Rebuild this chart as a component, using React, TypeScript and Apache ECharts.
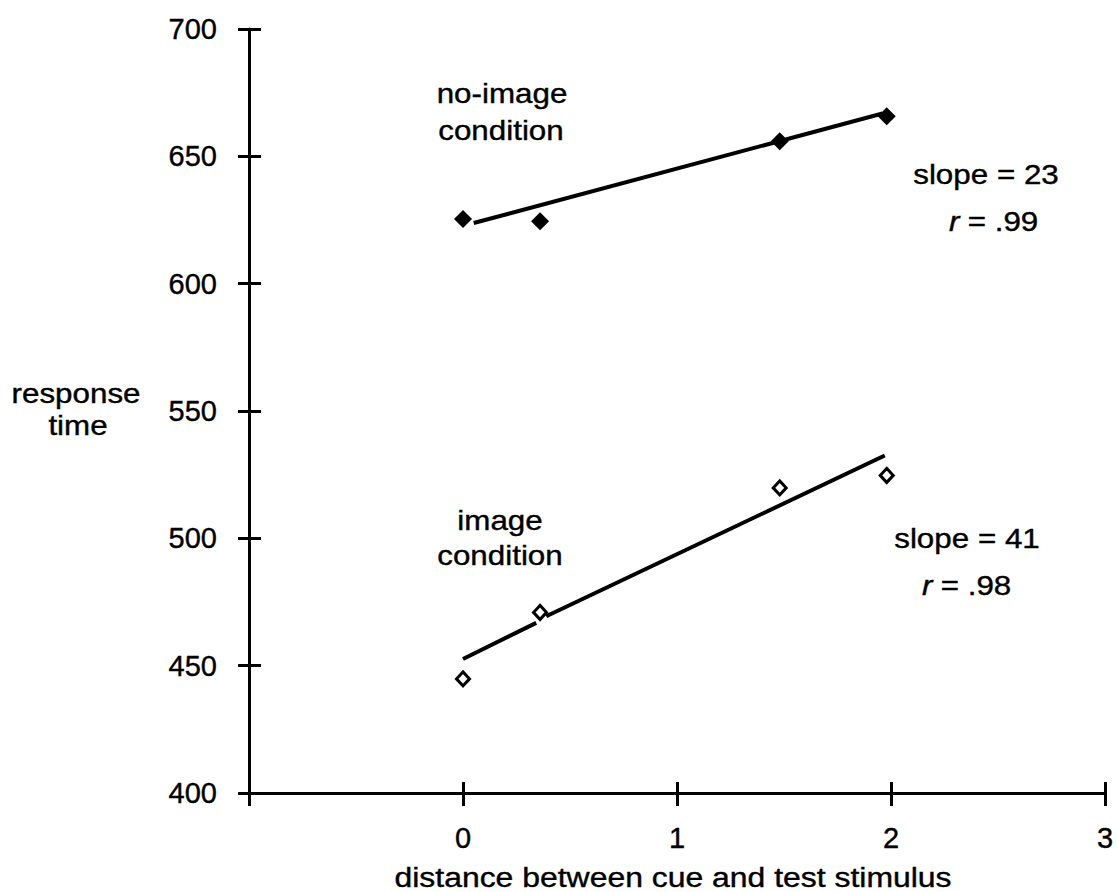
import React, { useEffect, useRef } from 'react';
import * as echarts from 'echarts';

// ---- data ----
const distances = [0, 0.36, 1.48, 1.98];
const noImageRT = [625.4, 624.5, 655.9, 665.7];
const imageRT = [444.8, 470.9, 519.8, 524.7];

// fitted regression lines (as drawn in the figure)
const noImageFitX = [0.05, 1.96];
const noImageFitY = [623.8, 666.8];
const imageFitAX = [0, 0.342];
const imageFitAY = [452.6, 466.8];
const imageFitBX = [0.389, 1.971];
const imageFitBY = [469.4, 532.5];

// axes
const xMin = -1;
const xMax = 3;
const xStep = 1;
const yMin = 400;
const yMax = 700;
const yStep = 50;
const xHiddenLabels = [-1];

const xTitle = 'distance between cue and test stimulus';
const yTitleLines = ['response', 'time'];

const FONT = '"Liberation Sans", Arial, Helvetica, sans-serif';
const FS = 28;
const TICK_FS = 29;
const SX = 1.12;
const TW = 0.4;

const pairs = (xs: number[], ys: number[]) => xs.map((x, i) => [x, ys[i]]);

export default function App() {
  const ref = useRef<HTMLDivElement>(null);

  useEffect(() => {
    if (!ref.current) return;
    const chart = echarts.init(ref.current, undefined, { renderer: 'svg' });
    const black = '#000';
    const axisLineStyle = { color: black, width: 3 };
    const gridRect = { left: 249, right: 13, top: 29, bottom: 99, containLabel: false };

    const textEl = (
      text: string,
      x: number,
      y: number,
      opts: { sx?: number; align?: string; italic?: boolean } = {}
    ) => ({
      type: 'text',
      x,
      y,
      scaleX: opts.sx ?? SX,
      silent: true,
      style: {
        text,
        fill: black,
        stroke: black,
        lineWidth: TW,
        fontSize: FS,
        fontFamily: FONT,
        fontStyle: opts.italic ? 'italic' : 'normal',
        align: opts.align ?? 'center',
        verticalAlign: 'middle',
      },
    });

    const tickLabel = {
      color: black,
      fontSize: TICK_FS,
      fontFamily: FONT,
      textBorderColor: black,
      textBorderWidth: TW,
    };

    const option: any = {
      animation: false,
      backgroundColor: '#fff',
      grid: [gridRect, { ...gridRect }],
      xAxis: [
        {
          gridIndex: 0,
          type: 'value',
          min: xMin,
          max: xMax,
          interval: xStep,
          axisLine: { show: true, onZero: false, lineStyle: axisLineStyle },
          axisTick: { show: true, inside: false, length: 13, lineStyle: axisLineStyle },
          axisLabel: {
            ...tickLabel,
            margin: 30,
            formatter: (v: number) => (xHiddenLabels.includes(v) ? '' : String(v)),
          },
          splitLine: { show: false },
        },
        {
          gridIndex: 1,
          type: 'value',
          min: xMin,
          max: xMax,
          interval: xStep,
          axisLine: { show: false, onZero: false },
          axisTick: { show: true, inside: true, length: 11, lineStyle: axisLineStyle },
          axisLabel: { show: false },
          splitLine: { show: false },
        },
      ],
      yAxis: [
        {
          gridIndex: 0,
          type: 'value',
          min: yMin,
          max: yMax,
          interval: yStep,
          axisLine: { show: true, onZero: false, lineStyle: axisLineStyle },
          axisTick: { show: true, inside: false, length: 11, lineStyle: axisLineStyle },
          axisLabel: { ...tickLabel, margin: 32, padding: [0, 0, 8, 0] },
          splitLine: { show: false },
        },
        {
          gridIndex: 1,
          type: 'value',
          min: yMin,
          max: yMax,
          interval: yStep,
          axisLine: { show: false, onZero: false },
          axisTick: { show: true, inside: true, length: 12, lineStyle: axisLineStyle },
          axisLabel: { show: false },
          splitLine: { show: false },
        },
      ],
      series: [
        {
          name: 'no-image fit',
          type: 'line',
          data: pairs(noImageFitX, noImageFitY),
          showSymbol: false,
          symbol: 'none',
          lineStyle: { color: black, width: 4 },
          z: 2,
        },
        {
          name: 'image fit a',
          type: 'line',
          data: pairs(imageFitAX, imageFitAY),
          showSymbol: false,
          symbol: 'none',
          lineStyle: { color: black, width: 4 },
          z: 2,
        },
        {
          name: 'image fit b',
          type: 'line',
          data: pairs(imageFitBX, imageFitBY),
          showSymbol: false,
          symbol: 'none',
          lineStyle: { color: black, width: 4 },
          z: 2,
        },
        {
          name: 'no-image condition',
          type: 'scatter',
          data: pairs(distances, noImageRT),
          symbol: 'diamond',
          symbolSize: [18, 18],
          itemStyle: { color: black, opacity: 1 },
          z: 3,
        },
        {
          name: 'image condition',
          type: 'scatter',
          data: pairs(distances, imageRT),
          symbol: 'diamond',
          symbolSize: [13, 14],
          itemStyle: { color: '#fff', borderColor: black, borderWidth: 3, opacity: 1 },
          z: 3,
        },
      ],
      graphic: [
        textEl(xTitle, 673, 877, { sx: 1.14 }),
        textEl(yTitleLines[0], 76, 393),
        textEl(yTitleLines[1], 78, 425),
        textEl('no-image', 502, 93),
        textEl('condition', 501, 130),
        textEl('image', 500, 520),
        textEl('condition', 500, 555),
        textEl('slope = 23', 986, 174),
        textEl('r', 949, 221, { align: 'left', italic: true }),
        textEl(' = .99', 959, 221, { align: 'left' }),
        textEl('slope = 41', 967, 538),
        textEl('r', 922, 585, { align: 'left', italic: true }),
        textEl(' = .98', 932, 585, { align: 'left' }),
      ],
    };

    chart.setOption(option);
    return () => chart.dispose();
  }, []);

  return (
    <div
      ref={ref}
      style={{ position: 'absolute', left: 0, top: 0, width: 1118, height: 892, background: '#fff' }}
    />
  );
}
